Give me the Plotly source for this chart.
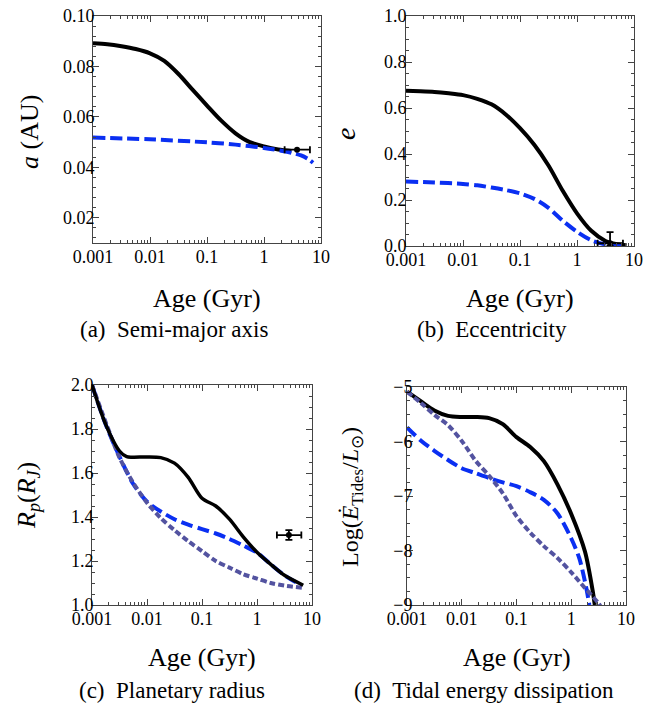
import plotly.graph_objects as go

# ---------------- data (ages in Gyr) ----------------
# (a) semi-major axis (AU)
age_a_solid = [0.001, 0.00178, 0.00316, 0.00562, 0.01, 0.0178, 0.0316, 0.0562, 0.1, 0.178, 0.316, 0.562, 1.0, 1.78, 3.02]
a_solid = [0.0892, 0.0888, 0.0880, 0.0869, 0.0852, 0.0822, 0.0770, 0.0707, 0.0645, 0.0585, 0.0535, 0.0500, 0.0483, 0.0471, 0.0465]
age_a_dash = [0.001, 0.01, 0.1, 0.316, 1.0, 2.0, 3.16, 4.47, 6.03, 7.24]
a_dash = [0.0518, 0.0511, 0.0499, 0.0490, 0.0477, 0.0466, 0.0457, 0.0447, 0.0432, 0.0418]

# (b) eccentricity
age_b_solid = [0.001, 0.00178, 0.00316, 0.00562, 0.01, 0.0178, 0.0316, 0.0562, 0.1, 0.178, 0.316, 0.562, 1.0, 1.78, 3.16, 5.01, 7.41]
e_solid = [0.675, 0.673, 0.670, 0.664, 0.656, 0.640, 0.616, 0.572, 0.512, 0.440, 0.350, 0.240, 0.142, 0.066, 0.022, 0.008, 0.003]
age_b_dash = [0.001, 0.00316, 0.01, 0.0178, 0.0316, 0.0562, 0.1, 0.178, 0.316, 0.562, 1.0, 1.78, 3.16, 7.24]
e_dash = [0.280, 0.276, 0.270, 0.264, 0.254, 0.243, 0.229, 0.205, 0.166, 0.110, 0.062, 0.025, 0.007, 0.0]

# (c) planetary radius (R_J)
age_c_solid = [0.001, 0.00178, 0.00316, 0.00427, 0.00562, 0.01, 0.0178, 0.0316, 0.0562, 0.1, 0.178, 0.316, 0.562, 1.0, 1.78, 3.16, 6.92]
r_solid = [2.0, 1.82, 1.70, 1.674, 1.672, 1.673, 1.670, 1.645, 1.580, 1.485, 1.450, 1.390, 1.310, 1.240, 1.185, 1.135, 1.090]
age_c_dash = [0.001, 0.00178, 0.00316, 0.00562, 0.01, 0.0178, 0.0316, 0.0562, 0.1, 0.178, 0.316, 0.562, 1.0, 1.78, 3.16, 6.31]
r_dash = [2.0, 1.82, 1.675, 1.55, 1.47, 1.425, 1.39, 1.365, 1.345, 1.325, 1.30, 1.27, 1.238, 1.185, 1.135, 1.09]
age_c_dot = [0.001, 0.00178, 0.00316, 0.00562, 0.01, 0.0178, 0.0316, 0.0562, 0.1, 0.178, 0.316, 0.562, 1.0, 1.78, 3.16, 6.92]
r_dot = [2.0, 1.83, 1.67, 1.555, 1.465, 1.395, 1.34, 1.29, 1.245, 1.20, 1.17, 1.14, 1.12, 1.10, 1.088, 1.078]

# (d) log tidal energy dissipation
age_d_solid = [0.001, 0.00178, 0.00316, 0.00562, 0.01, 0.0178, 0.0316, 0.0562, 0.1, 0.178, 0.316, 0.562, 1.0, 1.78, 2.51, 2.69]
ed_solid = [-5.085, -5.26, -5.43, -5.53, -5.55, -5.55, -5.57, -5.68, -5.92, -6.10, -6.36, -6.79, -7.33, -8.02, -8.79, -9.0]
age_d_dash = [0.001, 0.00178, 0.00316, 0.00562, 0.01, 0.0178, 0.0316, 0.0562, 0.1, 0.178, 0.316, 0.562, 1.0, 1.41, 1.91, 2.14]
ed_dash = [-5.74, -5.98, -6.17, -6.34, -6.49, -6.58, -6.67, -6.75, -6.82, -6.93, -7.07, -7.32, -7.78, -8.15, -8.72, -9.0]
age_d_dot = [0.001, 0.00178, 0.00316, 0.00562, 0.01, 0.0178, 0.0316, 0.0562, 0.1, 0.178, 0.316, 0.562, 1.0, 1.78, 3.16, 3.55]
ed_dot = [-5.085, -5.29, -5.51, -5.70, -5.99, -6.35, -6.63, -6.95, -7.37, -7.67, -7.92, -8.14, -8.40, -8.69, -8.97, -9.05]

# observed values (age, value, errors)
obs_age = 3.8
obs_age_lo = 1.5
obs_age_hi = 2.6
obs_a = 0.047
obs_e = 0.012
obs_e_hi = 0.048
obs_e_lo = 0.012
obs_r = 1.318
obs_r_err = 0.022

x_tickvals = [0.001, 0.01, 0.1, 1, 10]
x_ticktext = ["0.001", "0.01", "0.1", "1", "10"]

# ---------------- styling ----------------
BLACK = "#000000"
BLUE = "#0a2ff2"
GRAY = "#5353a0"
FONT = "Liberation Serif"
W, H = 669, 706

fig = go.Figure()


def line(x, y, color, dash, ax, width=4):
    fig.add_trace(go.Scatter(
        x=x, y=y, mode="lines", xaxis="x" + ax, yaxis="y" + ax,
        line=dict(color=color, width=width, dash=dash, shape="spline", smoothing=0.8),
        showlegend=False, hoverinfo="skip"))


def obs(ax, y, ylo=None, yhi=None):
    ey = None
    if ylo is not None:
        ey = dict(type="data", symmetric=False, array=[yhi], arrayminus=[ylo],
                  color=BLACK, thickness=1.8, width=3.5)
    fig.add_trace(go.Scatter(
        x=[obs_age], y=[y], mode="markers", xaxis="x" + ax, yaxis="y" + ax,
        marker=dict(color=BLACK, size=6),
        error_x=dict(type="data", symmetric=False, array=[obs_age_hi], arrayminus=[obs_age_lo],
                     color=BLACK, thickness=1.8, width=3.5),
        error_y=ey, showlegend=False, hoverinfo="skip"))


DASH = "12px,5px"
DOT = "6px,3px"

# (a)
line(age_a_solid, a_solid, BLACK, "solid", "")
line(age_a_dash, a_dash, BLUE, DASH, "")
obs("", obs_a)
# (b)
line(age_b_solid, e_solid, BLACK, "solid", "2")
line(age_b_dash, e_dash, BLUE, DASH, "2")
obs("2", obs_e, obs_e_lo, obs_e_hi)
# (c)
line(age_c_dash, r_dash, BLUE, DASH, "3")
line(age_c_dot, r_dot, GRAY, DOT, "3")
line(age_c_solid, r_solid, BLACK, "solid", "3", width=3.5)
obs("3", obs_r, obs_r_err, obs_r_err)
# (d)
line(age_d_dash, ed_dash, BLUE, DASH, "4")
line(age_d_solid, ed_solid, BLACK, "solid", "4")
line(age_d_dot, ed_dot, GRAY, DOT, "4")


def px_dom_x(l, r):
    return [l / W, r / W]


def px_dom_y(t, b):
    return [1 - b / H, 1 - t / H]


tickfont = dict(family=FONT, size=18, color="black")
axcommon = dict(showline=True, linecolor="#444", linewidth=1, mirror="allticks",
                ticks="inside", ticklen=6, tickcolor="#444", tickwidth=1, automargin=False,
                showgrid=False, zeroline=False, tickfont=tickfont)

xcommon = dict(axcommon, type="log", range=[-3, 1], tickvals=x_tickvals, ticktext=x_ticktext,
               ticklabelstandoff=-3,
               minor=dict(ticks="inside", ticklen=3, tickcolor="#444", dtick="D1", showgrid=False))

panels = {
    "": dict(xd=px_dom_x(93, 321), yd=px_dom_y(16, 243), yr=[0.01, 0.10], so=-6,
             yv=[0.02, 0.04, 0.06, 0.08, 0.10], yt=["0.02", "0.04", "0.06", "0.08", "0.10"], ym=0.004),
    "2": dict(xd=px_dom_x(406, 634), yd=px_dom_y(16, 246), yr=[0, 1], so=-5,
              yv=[0, 0.2, 0.4, 0.6, 0.8, 1.0], yt=["0.0", "0.2", "0.4", "0.6", "0.8", "1.0"], ym=0.05),
    "3": dict(xd=px_dom_x(92, 312), yd=px_dom_y(385, 605), yr=[1, 2], so=-6,
              yv=[1.0, 1.2, 1.4, 1.6, 1.8, 2.0], yt=["1.0", "1.2", "1.4", "1.6", "1.8", "2.0"], ym=0.05),
    "4": dict(xd=px_dom_x(407, 626), yd=px_dom_y(387, 605), yr=[-9, -5], so=-10,
              yv=[-9, -8, -7, -6, -5], yt=["\u22129", "\u22128", "\u22127", "\u22126", "\u22125"], ym=0.25),
}

layout = dict(template="none", width=W, height=H, margin=dict(l=0, r=0, t=0, b=0, pad=0),
              paper_bgcolor="white", plot_bgcolor="white", showlegend=False,
              font=dict(family=FONT, color="black"))
for k, p in panels.items():
    layout["xaxis" + k] = dict(xcommon, domain=p["xd"], anchor="y" + k)
    layout["yaxis" + k] = dict(axcommon, domain=p["yd"], anchor="x" + k, range=p["yr"],
                               tickvals=p["yv"], ticktext=p["yt"], ticklabelstandoff=p["so"],
                               minor=dict(ticks="inside", ticklen=3, tickcolor="#444",
                                          dtick=p["ym"], showgrid=False))
fig.update_layout(**layout)

annots = []
def text(x, y, s, size, angle=0):
    annots.append(dict(x=x / W, y=1 - y / H, xref="paper", yref="paper", text=s, showarrow=False,
                       font=dict(family=FONT, size=size, color="black"), textangle=angle,
                       xanchor="center", yanchor="middle"))

# x titles
text(207, 298, "Age (Gyr)", 26)
text(520, 298, "Age (Gyr)", 26)
text(202, 657, "Age (Gyr)", 26)
text(517, 657, "Age (Gyr)", 26)
# captions
text(174, 330, "(a)&#160;&#160;Semi-major axis", 23)
text(492, 330, "(b)&#160;&#160;Eccentricity", 23)
text(172, 690, "(c)&#160;&#160;Planetary radius", 23)
text(484, 690, "(d)&#160;&#160;Tidal energy dissipation", 23)
# y titles
text(30, 132, "<i>a</i> (AU)", 26, -90)
text(345, 134, "<i>e</i>", 28, -90)
text(28, 496, "<i>R<sub>p</sub></i>(<i>R<sub>J</sub></i>)", 26, -90)
text(352, 497, "Log(<i>\u0116</i><sub>Tides</sub>/<i>L</i><sub>\u2299</sub>)", 24, -90)
fig.update_layout(annotations=annots)

fig.write_html("out.html", config={"displayModeBar": False},
               post_script="document.body.style.margin='0';document.body.style.padding='0';")
